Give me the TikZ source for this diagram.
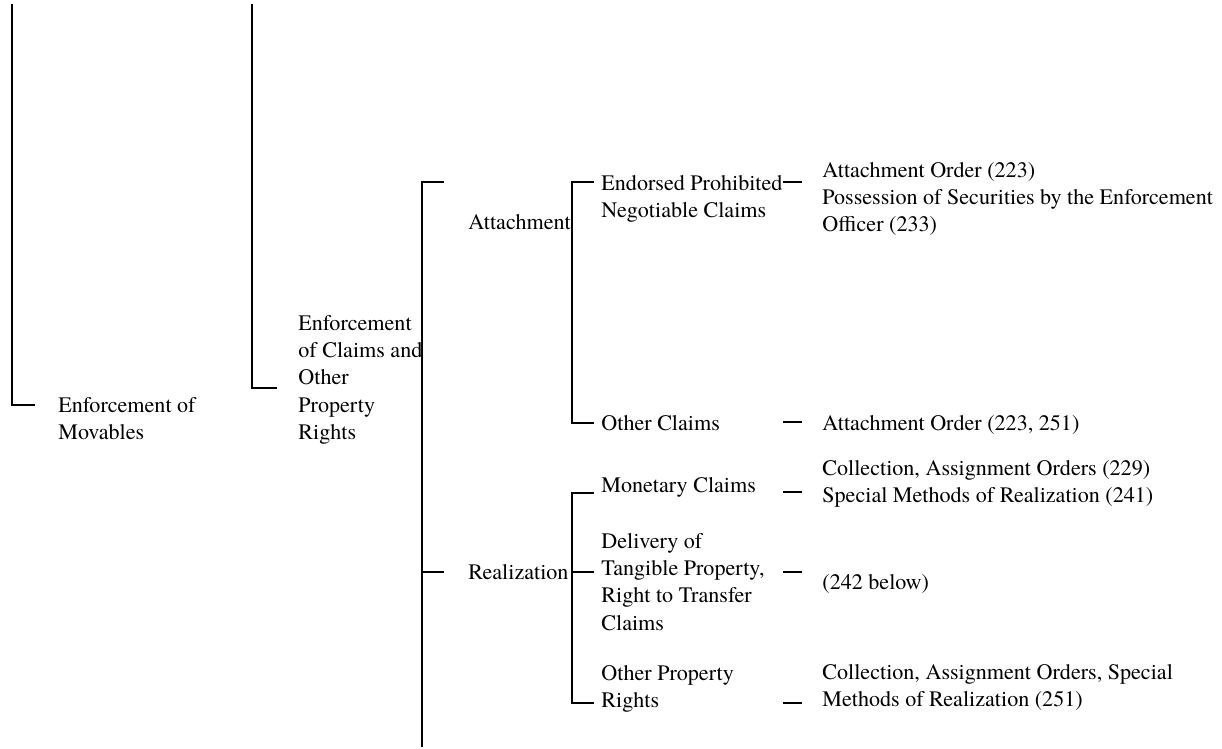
\documentclass[tikz,border=0pt]{standalone}
\usepackage{fontspec}
\setmainfont{texgyretermes}[Extension=.otf,UprightFont=*-regular,BoldFont=*-bold]
\usetikzlibrary{positioning}
\newcommand{\lawfont}{\rmfamily\fontsize{11.05}{13.6}\selectfont}

\begin{document}
\begin{tikzpicture}[x=0.5pt,y=-0.5pt]
    \tikzset{t/.style={anchor=north west,inner sep=0pt,align=left,font=\lawfont},
      br/.style={line width=0.9pt}}
    \useasboundingbox (0,0) rectangle (1222,749);
    % labels, left to right
    \node[t] (mov) at (58,397) {Enforcement of\\Movables};
    \node[t] (ecl) at (298,315) {Enforcement\\of Claims and\\Other\\Property\\Rights};
    \node[t] (att) at (468,214) {Attachment};
    \node[t] (rea) at (468,564) {Realization};
    \node[t] (epc) at (601,175) {Endorsed Prohibited\\Negotiable Claims};
    \node[t] (oc) at (601,415) {Other Claims};
    \node[t] (mc) at (601,477) {Monetary Claims};
    \node[t] (dtp) at (601,533) {Delivery of\\Tangible Property,\\Right to Transfer\\Claims};
    \node[t] (opr) at (601,665) {Other Property\\Rights};
    \node[t] (r1) at (822,162) {Attachment Order (223)\\Possession of Securities by the Enforcement\\Officer (233)};
    \node[t] (r2) at (822,415) {Attachment Order (223, 251)};
    \node[t] (r3) at (822,460) {Collection, Assignment Orders (229)\\Special Methods of Realization (241)};
    \node[t] (r4) at (822,574) {(242 below)};
    \node[t] (r5) at (822,664) {Collection, Assignment Orders, Special\\Methods of Realization (251)};
    % brackets
    \coordinate (m1) at (12,4);
    \coordinate (m2) at (35,405);
    \coordinate (c1) at (252,4);
    \coordinate (c2) at (277,388);
    \coordinate (k1) at (444,182);
    \coordinate (k2) at (422,747);
    \coordinate (k3) at (444,572);
    \coordinate (a1) at (594,182);
    \coordinate (a2) at (594,423);
    \coordinate (s1) at (594,493);
    \coordinate (s2) at (594,703);
    \coordinate (s3) at (594,572);
    \draw[br] (m1) |- (m2);
    \draw[br] (c1) |- (c2);
    \draw[br] (k1) -| (k2);
    \draw[br] (k2 |- k3) -- (k3);
    \draw[br] (a1) -| (572,302) |- (a2);
    \draw[br] (s1) -| (572,600) |- (s2);
    \draw[br] (572,572) -- (s3);
    % short dashes before the methods
    \foreach \n/\y in {1/182,2/422,3/492,4/572,5/703}{
      \coordinate (da\n) at (783,\y);
      \coordinate (db\n) at (802,\y);
      \draw[br] (da\n) -- (db\n);
    }
\end{tikzpicture}
\end{document}
